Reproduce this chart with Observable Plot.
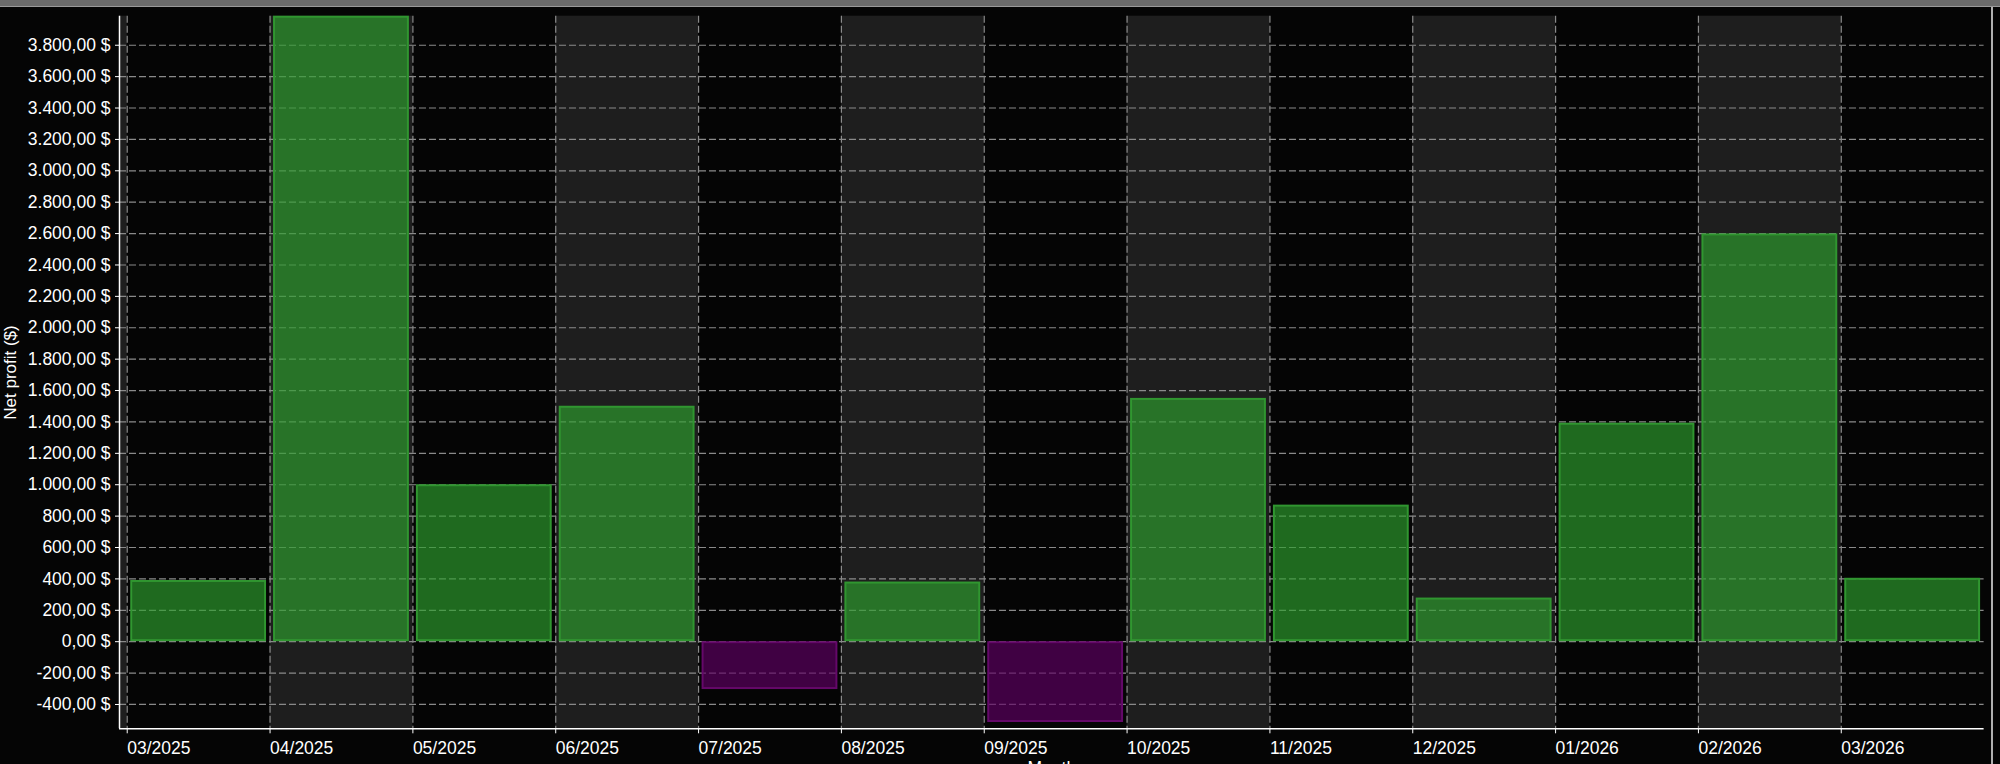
<!DOCTYPE html>
<html>
<head>
<meta charset="utf-8">
<script src="https://cdn.jsdelivr.net/npm/d3@7"></script>
<script src="https://cdn.jsdelivr.net/npm/@observablehq/plot@0.6"></script>
<style>
  html, body { margin: 0; padding: 0; background: #050505; overflow: hidden; }
  #wrap { position: relative; width: 2000px; height: 764px; }
  #topband { position: absolute; left: 0; top: 0; width: 2000px; height: 6px; background: #6b6b6b; border-bottom: 1px solid #9a9a9a; }
  #rightedge { position: absolute; left: 1991px; top: 7px; width: 2px; height: 757px; background: #b0b0b0; }
  svg { display: block; }
</style>
</head>
<body>
<div id="wrap">
  <div id="chart"></div>
  <div id="topband"></div>
  <div id="rightedge"></div>
</div>
<script>
const months = ["03/2025","04/2025","05/2025","06/2025","07/2025","08/2025","09/2025","10/2025","11/2025","12/2025","01/2026","02/2026","03/2026"];
const netProfit = [390, 3985, 1000, 1500, -305, 380, -515, 1550, 870, 278, 1392, 2598, 404];
const yTicks = d3.range(-400, 3801, 200);
const yAxisTitle = "Net profit ($)";
const xAxisTitle = "Month";

const xDomain = [-0.054, 13];
const yDomain = [-555, d3.max(netProfit)];

const data = months.map((m, i) => ({i, m, v: netProfit[i]}));
const monthIdx = d3.range(months.length);
const stripes = [-1, ...monthIdx.filter(i => i % 2 === 1)];

const loc = d3.formatLocale({decimal: ",", thousands: ".", grouping: [3], currency: ["", " $"], minus: "-"});
const fmt = loc.format("$,.2f");

const chart = Plot.plot({
  width: 2000,
  height: 764,
  marginLeft: 119,
  marginRight: 16.4,
  marginTop: 15.7,
  marginBottom: 35.7,
  x: {type: "linear", domain: xDomain, axis: null},
  y: {domain: yDomain, axis: null},
  style: {background: "transparent", color: "#ffffff", fontFamily: "'Liberation Sans', Arial, sans-serif", fontSize: "17.5px", overflow: "visible"},
  marks: [
    Plot.rect(stripes, {x1: d => Math.max(d, xDomain[0]), x2: d => d + 1, y1: yDomain[0], y2: yDomain[1], fill: "#1e1e1e"}),
    Plot.ruleY(yTicks, {stroke: "#8a8a8a", strokeWidth: 1.2, strokeDasharray: "7,3"}),
    Plot.ruleX(monthIdx, {stroke: "#8a8a8a", strokeWidth: 1.2, strokeDasharray: "7,3"}),
    Plot.rect(data, {
      x1: "i", x2: d => d.i + 1, y1: 0, y2: "v",
      insetLeft: 4.5, insetRight: 4.5, insetTop: 1, insetBottom: 1,
      fill: d => d.v >= 0 ? "rgb(45,160,45)" : "rgb(95,0,100)",
      fillOpacity: 0.66,
      stroke: d => d.v >= 0 ? "rgb(48,150,48)" : "rgb(100,8,105)",
      strokeOpacity: 1,
      strokeWidth: 2
    }),
    Plot.ruleX([xDomain[0]], {stroke: "#ffffff", strokeWidth: 1.5}),
    Plot.ruleY([yDomain[0]], {stroke: "#ffffff", strokeWidth: 1.5}),
    Plot.axisY(yTicks, {anchor: "left", tickFormat: fmt, tickSize: 4, tickPadding: 5, fontSize: 17.5, stroke: "#ffffff", fill: "#ffffff", label: null}),
    Plot.axisX(monthIdx, {anchor: "bottom", tickFormat: i => months[i], tickSize: 5, tickPadding: 8, textAnchor: "start", fontSize: 17.5, stroke: "#ffffff", fill: "#ffffff", label: null}),
    Plot.text([yAxisTitle], {frameAnchor: "left", textAnchor: "middle", dx: -109, rotate: -90, fontSize: 17, fill: "#ffffff"}),
    Plot.text([xAxisTitle], {frameAnchor: "bottom", textAnchor: "middle", dy: 33, lineAnchor: "top", fontSize: 17.5, fill: "#ffffff"})
  ]
});
document.getElementById("chart").appendChild(chart);
</script>
</body>
</html>
